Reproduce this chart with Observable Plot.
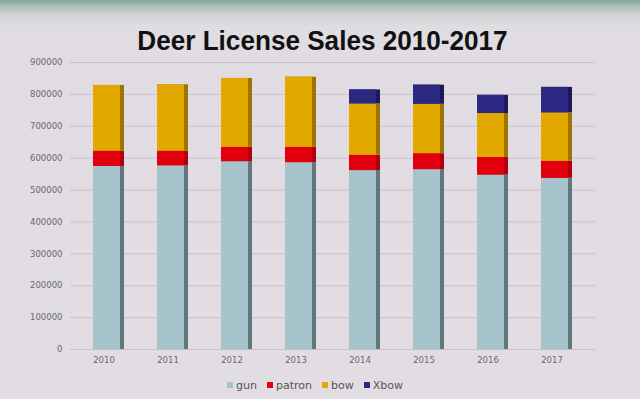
<!DOCTYPE html>
<html>
<head>
<meta charset="utf-8">
<script src="https://cdn.jsdelivr.net/npm/d3@7"></script>
<script src="https://cdn.jsdelivr.net/npm/@observablehq/plot@0.6"></script>
<style>
  html, body { margin: 0; padding: 0; }
  body {
    width: 640px; height: 399px; overflow: hidden;
    background: linear-gradient(#84a598 0px, #a9bdb6 6px, #cfd3d3 14px, #e0dce1 26px, #e1dde2 100%);
    font-family: "DejaVu Sans", sans-serif;
  }
  #title {
    box-sizing: border-box; height: 55px; padding-top: 27px;
    text-align: center; font-family: "Liberation Sans", Arial, sans-serif;
    font-weight: bold; font-size: 28px; line-height: 28px; color: #111;
  }
  #title span { display: inline-block; transform: scaleX(0.933); transform-origin: 50% 50%; margin-left: 4px; }
  #chart svg { display: block; }
  #legend {
    height: 24px; display: flex; justify-content: center; align-items: center;
    padding-right: 10px; font-size: 11px; color: #555;
  }
  .item { display: flex; align-items: center; margin: 0 5px; }
  .sw { width: 6px; height: 6px; margin-right: 3px; }
</style>
</head>
<body>
<div id="title"><span>Deer License Sales 2010-2017</span></div>
<div id="chart"></div>
<div id="legend"></div>
<script>
const years = ["2010", "2011", "2012", "2013", "2014", "2015", "2016", "2017"];
const series = ["gun", "patron", "bow", "Xbow"];
const gun    = [574000, 576000, 589000, 586000, 561000, 564000, 547000, 537000];
const patron = [48000, 46000, 45000, 48000, 48000, 50000, 55000, 53000];
const bow    = [206000, 208000, 216000, 220000, 161000, 155000, 138000, 152000];
const xbow   = [0, 0, 0, 0, 44000, 60000, 57000, 80000];
const yTicks = [0, 100000, 200000, 300000, 400000, 500000, 600000, 700000, 800000, 900000];

const frontColor = {gun: "#a7c4cc", patron: "#e2000e", bow: "#e2a800", Xbow: "#2b2882"};
const sideColor  = {gun: "#62767e", patron: "#b0000c", bow: "#9c7600", Xbow: "#1c1a58"};

const valuesBySeries = {gun, patron, bow, Xbow: xbow};
const data = [];
years.forEach((yr, i) => {
  series.forEach(s => data.push({year: yr, type: s, value: valuesBySeries[s][i]}));
});

const chart = Plot.plot({
  width: 640,
  height: 318,
  marginTop: 7,
  marginBottom: 24,
  marginLeft: 70,
  marginRight: 45,
  style: {background: "transparent", fontFamily: "DejaVu Sans, sans-serif", fontSize: "8.5px", color: "#6a6a6a"},
  x: {domain: years, paddingInner: 0.517, paddingOuter: 0.351, label: null, tickSize: 0, tickPadding: 7},
  y: {domain: [0, 900000], ticks: yTicks, tickFormat: d => String(d), label: null, tickSize: 0, tickPadding: 8},
  marks: [
    Plot.ruleY(yTicks, {stroke: "#c7c2c8", strokeWidth: 1}),
    Plot.barY(data, {x: "year", y: "value", fill: d => sideColor[d.type]}),
    Plot.barY(data, {x: "year", y: "value", fill: d => frontColor[d.type], insetRight: 4})
  ]
});
chart.querySelectorAll("[aria-label^='x-axis'] text").forEach(t => {
  const cur = t.getAttribute("transform") || "";
  t.setAttribute("transform", cur + " translate(-5,0)");
});
document.getElementById("chart").appendChild(chart);

const legend = document.getElementById("legend");
series.forEach(s => {
  const it = document.createElement("div");
  it.className = "item";
  const sw = document.createElement("div");
  sw.className = "sw";
  sw.style.background = frontColor[s];
  const tx = document.createElement("span");
  tx.textContent = s;
  it.appendChild(sw); it.appendChild(tx);
  legend.appendChild(it);
});
</script>
</body>
</html>
